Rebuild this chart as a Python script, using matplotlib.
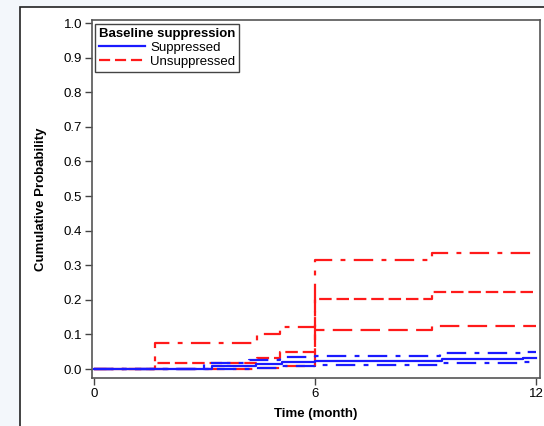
import matplotlib
matplotlib.use('Agg')
import matplotlib.pyplot as plt
from matplotlib.lines import Line2D
from matplotlib.patches import Rectangle

plt.rcParams['font.family'] = ['Liberation Sans', 'DejaVu Sans']
plt.rcParams['lines.scale_dashes'] = False

# Unsuppressed at baseline (red)
uns_t = [0, 1.66, 4.43, 5.05, 6.0, 9.17, 12.0]
uns_est = [0, 0.016, 0.033, 0.050, 0.202, 0.222, 0.222]
uns_up = [0, 0.076, 0.100, 0.122, 0.315, 0.335, 0.335]
uns_lo_t = [0, 4.43, 5.05, 6.0, 9.17, 12.0]
uns_lo = [0, 0.004, 0.010, 0.113, 0.124, 0.124]

# Suppressed at baseline (blue)
sup_t = [0, 3.2, 4.4, 5.1, 6.0, 9.44, 11.65, 12.0]
sup_est = [0, 0.008, 0.015, 0.020, 0.024, 0.028, 0.031, 0.031]
sup_up_t = [0, 3.0, 4.2, 5.05, 6.0, 9.4, 11.76, 12.0]
sup_up = [0, 0.016, 0.026, 0.036, 0.038, 0.045, 0.049, 0.049]
sup_lo_t = [0, 4.4, 5.1, 6.0, 9.4, 11.65, 12.0]
sup_lo = [0, 0.003, 0.008, 0.013, 0.016, 0.020, 0.020]

red = '#ff1a1a'
blue = '#1a1aff'
lw = 1.6
dash = (0, (9, 3.5))
longdash = (0, (14, 6))
dashdot = (0, (14, 6, 3.5, 6))
fs = 9.5

fig = plt.figure(figsize=(5.44, 4.26), dpi=100)
fig.patch.set_facecolor('#f3f7fb')

# white panel behind the chart
panel = Rectangle((20 / 544., -0.05), 1.0, 1 - 7 / 426. + 0.05, transform=fig.transFigure,
                  facecolor='white', edgecolor='#222222', linewidth=1.2, zorder=-5)
fig.patches.append(panel)

ax = fig.add_axes([92 / 544., 1 - 378 / 426., 448 / 544., 358 / 426.])
ax.set_facecolor('white')

ax.step(uns_t, uns_est, where='post', color=red, lw=lw, linestyle=dash)
ax.step(uns_t, uns_up, where='post', color=red, lw=lw, linestyle=dashdot)
ax.step(uns_lo_t, uns_lo, where='post', color=red, lw=lw, linestyle=longdash)

ax.step(sup_t, sup_est, where='post', color=blue, lw=lw, linestyle='-')
ax.step(sup_up_t, sup_up, where='post', color=blue, lw=lw, linestyle=dashdot)
ax.step(sup_lo_t, sup_lo, where='post', color=blue, lw=lw, linestyle=dashdot)

ax.set_xlim(-0.054, 12.11)
ax.set_ylim(-0.026, 1.0087)
ax.set_xticks([0, 6, 12])
ax.set_yticks([i / 10. for i in range(11)])
ax.set_yticklabels(['%.1f' % (i / 10.) for i in range(11)])
ax.tick_params(direction='out', length=5, width=1, color='#444444', labelsize=fs, pad=2)

for s in ax.spines.values():
    s.set_color('#555555')
    s.set_linewidth(1.2)

ax.set_xlabel('Time (month)', fontsize=fs, fontweight='bold', labelpad=6)
ax.set_ylabel('Cumulative Probability', fontsize=fs, fontweight='bold', labelpad=12)

h1 = Line2D([], [], color=blue, lw=lw, linestyle='-')
h2 = Line2D([], [], color=red, lw=lw, linestyle=(0, (8, 3.5)))
leg = ax.legend([h1, h2], ['Suppressed', 'Unsuppressed'], title='Baseline suppression',
                loc='upper left', bbox_to_anchor=(0.006, 0.99), fontsize=fs,
                title_fontproperties={'weight': 'bold', 'size': fs},
                frameon=True, fancybox=False, framealpha=1, edgecolor='#444444',
                borderpad=0.3, labelspacing=0.15, handlelength=3.5, handletextpad=0.4,
                borderaxespad=0)
leg._legend_box.align = 'left'
leg.get_frame().set_linewidth(1.0)

fig.savefig('out.png', dpi=100, facecolor=fig.get_facecolor())
